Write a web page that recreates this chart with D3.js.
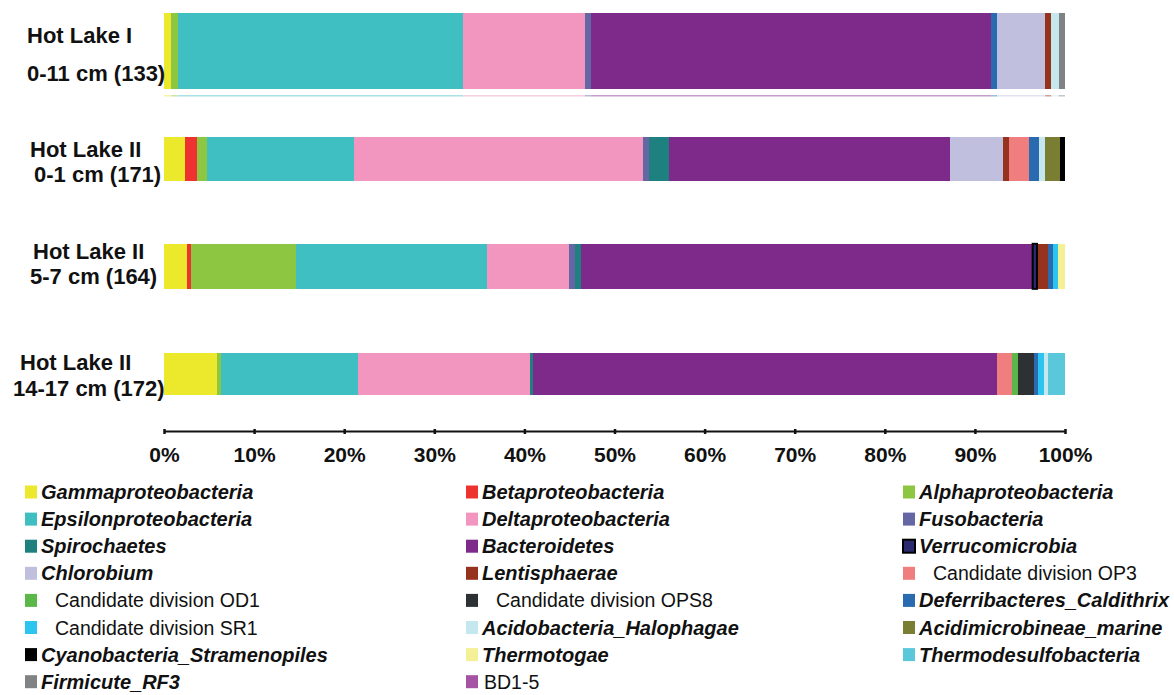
<!DOCTYPE html>
<html>
<head>
<meta charset="utf-8">
<script src="https://cdn.jsdelivr.net/npm/d3@7"></script>
<style>
  body { margin: 0; background: #ffffff; }
  svg { display: block; }
  text { font-family: "Liberation Sans", Arial, Helvetica, sans-serif; fill: #111; }
</style>
</head>
<body>
<svg id="chart" width="1174" height="695"></svg>
<script>
// ---- Data: relative abundance (%) of bacterial classes/phyla per sample ----
const sampleIds    = ["HL1_0_11", "HL2_0_1", "HL2_5_7", "HL2_14_17"];
const sampleSites  = ["Hot Lake I", "Hot Lake II", "Hot Lake II", "Hot Lake II"];
const sampleDepths = ["0-11 cm (133)", "0-1 cm (171)", "5-7 cm (164)", "14-17 cm (172)"];

// Legend order of all taxa
const taxa = [
  "Gammaproteobacteria", "Betaproteobacteria", "Alphaproteobacteria",
  "Epsilonproteobacteria", "Deltaproteobacteria", "Fusobacteria",
  "Spirochaetes", "Bacteroidetes", "Verrucomicrobia",
  "Chlorobium", "Lentisphaerae", "Candidate division OP3",
  "Candidate division OD1", "Candidate division OPS8", "Deferribacteres_Caldithrix",
  "Candidate division SR1", "Acidobacteria_Halophagae", "Acidimicrobineae_marine",
  "Cyanobacteria_Stramenopiles", "Thermotogae", "Thermodesulfobacteria",
  "Firmicute_RF3", "BD1-5"
];

// Hot Lake I, 0-11 cm
const hl1Taxa = ["Gammaproteobacteria", "Alphaproteobacteria", "Epsilonproteobacteria",
  "Deltaproteobacteria", "Fusobacteria", "Bacteroidetes", "Deferribacteres_Caldithrix",
  "Chlorobium", "Lentisphaerae", "Acidobacteria_Halophagae", "Firmicute_RF3"];
const hl1Pct  = [0.8, 0.7, 31.7, 13.5, 0.7, 44.4, 0.7, 5.3, 0.7, 0.8, 0.7];

// Hot Lake II, 0-1 cm
const hl2aTaxa = ["Gammaproteobacteria", "Betaproteobacteria", "Alphaproteobacteria",
  "Epsilonproteobacteria", "Deltaproteobacteria", "Fusobacteria", "Spirochaetes",
  "Bacteroidetes", "Chlorobium", "Lentisphaerae", "Candidate division OP3",
  "Deferribacteres_Caldithrix", "Acidobacteria_Halophagae", "Acidimicrobineae_marine",
  "Cyanobacteria_Stramenopiles"];
const hl2aPct  = [2.3, 1.4, 1.1, 16.3, 32.1, 0.6, 2.3, 31.1, 5.9, 0.7, 2.2, 1.1, 0.7, 1.6, 0.6];

// Hot Lake II, 5-7 cm
const hl2bTaxa = ["Gammaproteobacteria", "Betaproteobacteria", "Alphaproteobacteria",
  "Epsilonproteobacteria", "Deltaproteobacteria", "Fusobacteria", "Spirochaetes",
  "Bacteroidetes", "Verrucomicrobia", "Lentisphaerae", "Deferribacteres_Caldithrix",
  "Candidate division SR1", "Thermotogae"];
const hl2bPct  = [2.5, 0.5, 11.7, 21.2, 9.0, 0.7, 0.7, 50.0, 0.7, 1.1, 0.6, 0.5, 0.8];

// Hot Lake II, 14-17 cm
const hl2cTaxa = ["Gammaproteobacteria", "Alphaproteobacteria", "Epsilonproteobacteria",
  "Deltaproteobacteria", "Spirochaetes", "Bacteroidetes", "Candidate division OP3",
  "Candidate division OD1", "Candidate division OPS8", "Deferribacteres_Caldithrix",
  "Candidate division SR1", "Acidobacteria_Halophagae", "Thermodesulfobacteria"];
const hl2cPct  = [5.9, 0.4, 15.2, 19.1, 0.4, 51.5, 1.6, 0.7, 1.8, 0.4, 0.7, 0.4, 1.9];

const axisTicks = [0, 10, 20, 30, 40, 50, 60, 70, 80, 90, 100];

// ---- Styling ----
const palette = [
  "#ece82c", "#ee3230", "#8dc641",
  "#40bfc3", "#f296bf", "#6467a3",
  "#1f8080", "#7d2a8a", "#2b2a6e",
  "#c0bfde", "#96331f", "#f17e7e",
  "#5bb848", "#2e3133", "#2a6ab0",
  "#2cc5f0", "#c4e8ee", "#7a7e32",
  "#000000", "#f3f096", "#5ac8da",
  "#808284", "#a653a3"
];
const color = d3.scaleOrdinal().domain(taxa).range(palette);
const outlined = new Set(["Verrucomicrobia"]);
const informal = name => name.startsWith("Candidate division") || name === "BD1-5";

const sampleTaxa = [hl1Taxa, hl2aTaxa, hl2bTaxa, hl2cTaxa];
const samplePct  = [hl1Pct, hl2aPct, hl2bPct, hl2cPct];

// Build running segments for every bar
const rows = sampleIds.map((id, i) => {
  let acc = 0;
  const segs = sampleTaxa[i].map((t, j) => {
    const s = { taxon: t, x0: acc, x1: acc + samplePct[i][j] };
    acc += samplePct[i][j];
    return s;
  });
  return { id, site: sampleSites[i], depth: sampleDepths[i], segs };
});

// ---- Layout ----
const svg = d3.select("#chart");
const x = d3.scaleLinear().domain([0, 100]).range([164, 1065]);
const y = d3.scalePoint().domain(sampleIds).range([51, 374]);
const barThickness = { HL1_0_11: 76, HL2_0_1: 44, HL2_5_7: 45, HL2_14_17: 42 };
const labelLayout = {
  HL1_0_11:  { x1: 27, x2: 27, d1: -16, d2: 22 },
  HL2_0_1:   { x1: 30, x2: 34, d1: -10, d2: 15 },
  HL2_5_7:   { x1: 33, x2: 30, d1: -15, d2: 10 },
  HL2_14_17: { x1: 20, x2: 13, d1: -12, d2: 14 }
};

// Bars
const barG = svg.append("g").attr("class", "bars");
rows.forEach(r => {
  const h = barThickness[r.id];
  const top = y(r.id) - h / 2;
  barG.append("g")
    .selectAll("rect")
    .data(r.segs)
    .join("rect")
      .attr("x", d => x(d.x0))
      .attr("y", top)
      .attr("width", d => Math.max(0, x(d.x1) - x(d.x0)))
      .attr("height", h)
      .attr("fill", d => color(d.taxon))
      .attr("shape-rendering", "crispEdges");
  // outlined segments
  barG.append("g")
    .selectAll("rect")
    .data(r.segs.filter(d => outlined.has(d.taxon)))
    .join("rect")
      .attr("x", d => x(d.x0) + 1)
      .attr("y", top)
      .attr("width", d => Math.max(0, x(d.x1) - x(d.x0) - 2))
      .attr("height", h)
      .attr("fill", "none")
      .attr("stroke", "#000")
      .attr("stroke-width", 2);
});

// Faint echo strip beneath the first bar
const first = rows[0];
svg.append("g").attr("opacity", 0.45)
  .selectAll("rect")
  .data(first.segs)
  .join("rect")
    .attr("x", d => x(d.x0))
    .attr("y", y(first.id) + barThickness[first.id] / 2 + 6)
    .attr("width", d => x(d.x1) - x(d.x0))
    .attr("height", 1.5)
    .attr("fill", d => color(d.taxon));

// Sample labels
const labG = svg.append("g").attr("class", "sample-labels")
  .style("font-weight", "bold").style("font-size", "22px");
rows.forEach(r => {
  const L = labelLayout[r.id];
  const cy = y(r.id);
  labG.append("text").attr("x", L.x1).attr("y", cy + L.d1 + 8).text(r.site);
  labG.append("text").attr("x", L.x2).attr("y", cy + L.d2 + 8).text(r.depth);
});

// X axis
const axisY = 431;
const axis = d3.axisBottom(x)
  .tickValues(axisTicks)
  .tickFormat(d => d + "%")
  .tickSizeInner(4)
  .tickSizeOuter(0);
const axG = svg.append("g").attr("transform", `translate(0,${axisY})`).call(axis);
axG.select(".domain").attr("stroke", "#111").attr("stroke-width", 2);
axG.selectAll(".tick line").attr("stroke", "#111").attr("stroke-width", 2.5)
  .attr("y1", -2).attr("y2", 3);
axG.selectAll(".tick text")
  .attr("y", 31).attr("dy", 0)
  .style("font-size", "21px").style("font-weight", "bold")
  .style("font-family", "\"Liberation Sans\", Arial, sans-serif")
  .attr("fill", "#111");

// Legend: three columns, row-major
const legCols = [25, 466, 903];
const legRow0 = 492, legStep = 27.1;
const legG = svg.append("g").attr("class", "legend");
const items = legG.selectAll("g")
  .data(taxa)
  .join("g")
    .attr("transform", (d, i) =>
      `translate(${legCols[i % 3]},${legRow0 + Math.floor(i / 3) * legStep})`);
items.append("rect")
  .attr("x", 0).attr("y", -6.5)
  .attr("width", 12).attr("height", 13)
  .attr("fill", d => color(d))
  .attr("stroke", d => outlined.has(d) ? "#000" : "none")
  .attr("stroke-width", 2);
items.append("text")
  .attr("x", d => informal(d) ? (d === "BD1-5" ? 18 : 30) : 16)
  .attr("y", 7)
  .style("font-size", d => informal(d) ? "19.5px" : "20px")
  .style("font-weight", "bold")
  .style("font-weight", d => informal(d) ? "normal" : "bold")
  .style("font-style", d => informal(d) ? "normal" : "italic")
  .text(d => d);
</script>
</body>
</html>
